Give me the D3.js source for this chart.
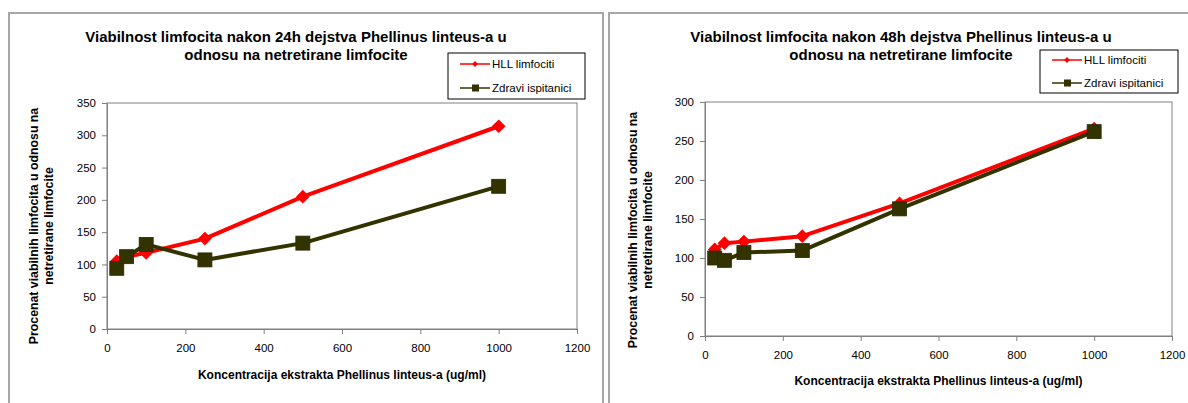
<!DOCTYPE html>
<html>
<head>
<meta charset="utf-8">
<script src="https://cdn.jsdelivr.net/npm/d3@7"></script>
<style>
  html, body { margin: 0; padding: 0; background: #fff; }
  svg { display: block; font-family: Arial, "Liberation Sans", sans-serif; }
</style>
</head>
<body>
<svg id="chart" width="1188" height="403"></svg>
<script>
// Concentrations of Phellinus linteus extract (ug/ml)
const concentrations = [25, 50, 100, 250, 500, 1000];

// 24h treatment: viability (%) relative to untreated lymphocytes
const hll24 = [105, 112, 118, 140, 205, 314];
const healthy24 = [94, 112, 131, 107, 133, 221];

// 48h treatment
const hll48 = [111, 119, 121, 128, 170, 266];
const healthy48 = [100, 97, 107, 109.5, 163, 262];

const xTicks = [0, 200, 400, 600, 800, 1000, 1200];
const yTicks24 = [0, 50, 100, 150, 200, 250, 300, 350];
const yTicks48 = [0, 50, 100, 150, 200, 250, 300];

const seriesNames = ["HLL limfociti", "Zdravi ispitanici"];
const titles24 = ["Viabilnost limfocita nakon 24h dejstva Phellinus linteus-a u", "odnosu na netretirane limfocite"];
const titles48 = ["Viabilnost limfocita nakon 48h dejstva Phellinus linteus-a u", "odnosu na netretirane limfocite"];
const yTitle = ["Procenat viabilnih limfocita u odnosu na", "netretirane limfocite"];
const xTitle = "Koncentracija ekstrakta Phellinus linteus-a (ug/ml)";

const RED = "#ff0000";
const OLIVE = "#333300";

const svg = d3.select("#chart");

function drawPanel(cfg) {
  const g = svg.append("g");

  // outer frame of the chart object
  g.append("rect")
    .attr("x", cfg.frame.x).attr("y", cfg.frame.y)
    .attr("width", cfg.frame.w).attr("height", cfg.frame.h)
    .attr("fill", "#fff").attr("stroke", "#a6a6a6").attr("stroke-width", 2);

  const x = d3.scaleLinear().domain([0, 1200]).range([cfg.plot.left, cfg.plot.right]);
  const y = d3.scaleLinear().domain([0, cfg.yMax]).range([cfg.plot.bottom, cfg.plot.top]);

  // plot area border
  g.append("rect")
    .attr("x", cfg.plot.left).attr("y", cfg.plot.top)
    .attr("width", cfg.plot.right - cfg.plot.left)
    .attr("height", cfg.plot.bottom - cfg.plot.top)
    .attr("fill", "none").attr("stroke", "#808080").attr("stroke-width", 1);

  const xAxis = g.append("g")
    .attr("transform", `translate(0,${cfg.plot.bottom})`)
    .call(d3.axisBottom(x).tickValues(xTicks).tickSize(5).tickPadding(10).tickFormat(d3.format("d")));
  const yAxis = g.append("g")
    .attr("transform", `translate(${cfg.plot.left},0)`)
    .call(d3.axisLeft(y).tickValues(cfg.yTicks).tickSize(5).tickPadding(6).tickFormat(d3.format("d")));
  [xAxis, yAxis].forEach(a => {
    a.select(".domain").attr("stroke", "#808080");
    a.selectAll(".tick line").attr("stroke", "#808080");
    a.selectAll(".tick text").attr("fill", "#000").attr("font-size", 11.5)
      .attr("font-family", "Arial, 'Liberation Sans', sans-serif");
  });

  // title
  g.append("text")
    .attr("x", cfg.titleX).attr("y", 42)
    .attr("text-anchor", "middle").attr("font-size", 15).attr("font-weight", "bold")
    .selectAll("tspan").data(cfg.titles).join("tspan")
    .attr("x", cfg.titleX).attr("dy", (d, i) => i === 0 ? 0 : 18).text(d => d);

  // axis titles
  g.append("text")
    .attr("x", (cfg.plot.left + cfg.plot.right) / 2).attr("y", cfg.plot.bottom + cfg.xTitleOffset)
    .attr("text-anchor", "middle").attr("font-size", 12).attr("font-weight", "bold")
    .text(xTitle);

  const yt = g.append("text")
    .attr("transform", `translate(${cfg.yTitleX},${cfg.yTitleY}) rotate(-90)`)
    .attr("text-anchor", "middle").attr("font-size", 12.3).attr("font-weight", "bold");
  yt.selectAll("tspan").data(yTitle).join("tspan")
    .attr("x", 0).attr("dy", (d, i) => i === 0 ? 0 : 15).text(d => d);

  const line = d3.line().x(d => x(d[0])).y(d => y(d[1]));
  const red = concentrations.map((c, i) => [c, cfg.hll[i]]);
  const olive = concentrations.map((c, i) => [c, cfg.healthy[i]]);

  const diamond = d3.symbol().type(d3.symbolDiamond2).size(120);

  function drawSeries(data, color, shape) {
    g.append("path").datum(data)
      .attr("d", line).attr("fill", "none")
      .attr("stroke", color).attr("stroke-width", 4).attr("stroke-linejoin", "round");
    if (shape === "diamond") {
      g.selectAll(null).data(data).join("path")
        .attr("d", diamond)
        .attr("transform", d => `translate(${x(d[0])},${y(d[1])})`)
        .attr("fill", color);
    } else {
      g.selectAll(null).data(data).join("rect")
        .attr("x", d => x(d[0]) - 7).attr("y", d => y(d[1]) - 7)
        .attr("width", 14).attr("height", 14)
        .attr("fill", color).attr("stroke", "#2a2a00").attr("stroke-width", 0.8);
    }
  }
  drawSeries(red, RED, "diamond");
  drawSeries(olive, OLIVE, "square");

  // legend
  const L = cfg.legend;
  const lg = g.append("g");
  lg.append("rect").attr("x", L.x).attr("y", L.y).attr("width", L.w).attr("height", L.h)
    .attr("fill", "#fff").attr("stroke", "#000").attr("stroke-width", 1);
  const rows = [
    { name: seriesNames[0], color: RED, shape: "diamond" },
    { name: seriesNames[1], color: OLIVE, shape: "square" }
  ];
  rows.forEach((r, i) => {
    const cy = L.y + L.row0 + i * L.rowGap;
    lg.append("line").attr("x1", L.x + 12).attr("x2", L.x + 42)
      .attr("y1", cy).attr("y2", cy).attr("stroke", r.color).attr("stroke-width", 1.5);
    if (r.shape === "diamond") {
      lg.append("path").attr("d", d3.symbol().type(d3.symbolDiamond2).size(22))
        .attr("transform", `translate(${L.x + 27},${cy})`).attr("fill", r.color);
    } else {
      lg.append("rect").attr("x", L.x + 24).attr("y", cy - 3.5).attr("width", 7).attr("height", 7)
        .attr("fill", r.color);
    }
    lg.append("text").attr("x", L.x + 44).attr("y", cy + 4)
      .attr("font-size", 11.5).attr("fill", "#000").text(r.name);
  });
}

drawPanel({
  frame: { x: 9, y: 13, w: 594, h: 420 },
  plot: { left: 107, right: 577, top: 103, bottom: 329 },
  yMax: 350, yTicks: yTicks24,
  hll: hll24, healthy: healthy24,
  titles: titles24, titleX: 296,
  xTitleOffset: 50, yTitleX: 38, yTitleY: 226,
  legend: { x: 448, y: 53, w: 137, h: 46, row0: 11, rowGap: 24 }
});

drawPanel({
  frame: { x: 609, y: 13, w: 600, h: 420 },
  plot: { left: 705, right: 1172, top: 102, bottom: 336 },
  yMax: 300, yTicks: yTicks48,
  hll: hll48, healthy: healthy48,
  titles: titles48, titleX: 901,
  xTitleOffset: 49, yTitleX: 637, yTitleY: 230,
  legend: { x: 1040, y: 50, w: 138, h: 43, row0: 10, rowGap: 23 }
});
</script>
</body>
</html>
